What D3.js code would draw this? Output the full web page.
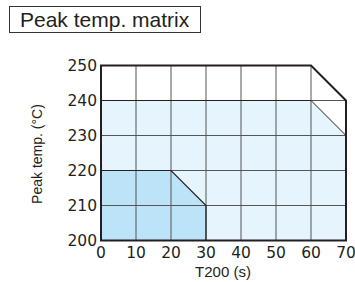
<!DOCTYPE html>
<html>
<head>
<meta charset="utf-8">
<script src="https://cdn.jsdelivr.net/npm/d3@7"></script>
<style>
  body { margin: 0; background: #fff; }
  text { fill: #231f20; }
</style>
</head>
<body>
<div id="chart"></div>
<script>
// chart values
const title = "Peak temp. matrix";
const xLabel = "T200 (s)";
const yLabel = "Peak temp. (°C)";
const xTicks = [0, 10, 20, 30, 40, 50, 60, 70];
const yTicks = [200, 210, 220, 230, 240, 250];
// outer limit of the matrix (time, temp)
const frameTime = [0, 0, 60, 70, 70];
const frameTemp = [200, 250, 250, 240, 200];
// wide process window
const wideTime = [0, 0, 60, 70, 70];
const wideTemp = [200, 240, 240, 230, 200];
// narrow process window
const narrowTime = [0, 0, 20, 30, 30];
const narrowTemp = [200, 220, 220, 210, 200];

const W = 355, H = 282;
const svg = d3.select("#chart").append("svg")
  .attr("width", W)
  .attr("height", H);

// title box
svg.append("rect")
  .attr("x", 9.5).attr("y", 6.5)
  .attr("width", 191).attr("height", 26)
  .attr("fill", "none")
  .attr("stroke", "#333")
  .attr("stroke-width", 1);
svg.append("text")
  .attr("x", 20).attr("y", 27)
  .attr("font-family", "Liberation Sans, Arial, sans-serif")
  .attr("font-size", 21)
  .text(title);

const x = d3.scaleLinear().domain([0, 70]).range([101, 346]);
const y = d3.scaleLinear().domain([200, 250]).range([240.5, 65.5]);

const toPts = (ts, vs) => ts.map((t, i) => [x(t), y(vs[i])]);
const line = d3.line();

// fills
svg.append("path")
  .attr("d", line(toPts(wideTime, wideTemp)) + "Z")
  .attr("fill", "#e5f4fd");
svg.append("path")
  .attr("d", line(toPts(narrowTime, narrowTemp)) + "Z")
  .attr("fill", "#bde3f8");

// grid: verticals up to the frame top
const g = svg.append("g").attr("stroke", "#555").attr("stroke-width", 1);
xTicks.slice(1, -1).forEach(t => {
  g.append("line")
    .attr("x1", x(t)).attr("x2", x(t))
    .attr("y1", y(200)).attr("y2", y(250));
});
yTicks.slice(1, -1).forEach(v => {
  g.append("line")
    .attr("x1", x(0)).attr("x2", x(70))
    .attr("y1", y(v)).attr("y2", y(v));
});

// window outlines
svg.append("path")
  .attr("d", line(toPts(wideTime, wideTemp)))
  .attr("fill", "none")
  .attr("stroke", "#222")
  .attr("stroke-width", 1);
svg.append("path")
  .attr("d", line(toPts(narrowTime, narrowTemp)))
  .attr("fill", "none")
  .attr("stroke", "#222")
  .attr("stroke-width", 1.2);

// frame
svg.append("path")
  .attr("d", line(toPts(frameTime, frameTemp)) + "Z")
  .attr("fill", "none")
  .attr("stroke", "#231f20")
  .attr("stroke-width", 2);

// tick labels
svg.selectAll(".ytick")
  .data(yTicks)
  .enter().append("text")
  .attr("class", "ytick")
  .attr("x", 97)
  .attr("y", d => y(d))
  .attr("dy", "0.36em")
  .attr("text-anchor", "end")
  .attr("font-family", "DejaVu Sans, sans-serif")
  .attr("font-size", 15.5)
  .text(d => d);

svg.selectAll(".xtick")
  .data(xTicks)
  .enter().append("text")
  .attr("class", "xtick")
  .attr("x", d => x(d))
  .attr("y", 258)
  .attr("text-anchor", "middle")
  .attr("font-family", "DejaVu Sans, sans-serif")
  .attr("font-size", 15.5)
  .text(d => d);

// axis labels
svg.append("text")
  .attr("x", 223).attr("y", 277)
  .attr("text-anchor", "middle")
  .attr("font-family", "Liberation Sans, Arial, sans-serif")
  .attr("font-size", 15)
  .text(xLabel);

svg.append("text")
  .attr("transform", "translate(42,154) rotate(-90)")
  .attr("text-anchor", "middle")
  .attr("font-family", "Liberation Sans, Arial, sans-serif")
  .attr("font-size", 14)
  .text(yLabel);
</script>
</body>
</html>
